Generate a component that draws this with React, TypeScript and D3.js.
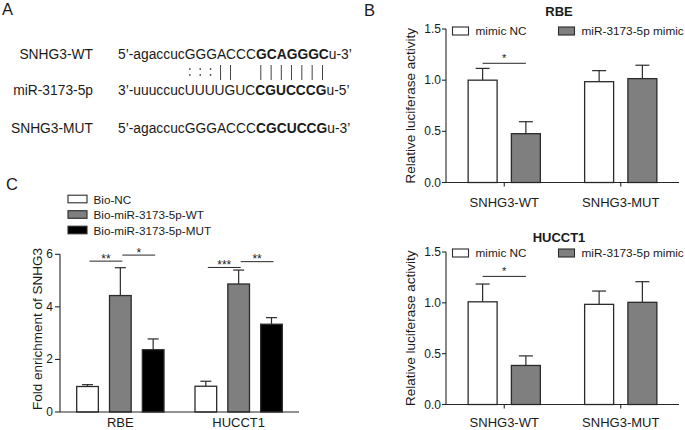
import React, { useLayoutEffect, useRef, useState } from 'react';
import * as d3 from 'd3';

const FONT = "'Liberation Sans', Arial, Helvetica, sans-serif";

// panel A sequences: [plain, bold seed, tail]
const seqWT = ['5\u2019-agaccucGGGACCC', 'GCAGGGC', 'u-3\u2019'];
const seqMiR = ['3\u2019-uuuccucUUUUGUC', 'CGUCCCG', 'u-5\u2019'];
const seqMUT = ['5\u2019-agaccucGGGACCC', 'CGCUCCG', 'u-3\u2019'];
const seqNames = ['SNHG3-WT', 'miR-3173-5p', 'SNHG3-MUT'];
// pairing marks for the 14 upper-case bases after the 10-char prefix
const pairing = [':', ':', ':', '|', '|', '', '', '|', '|', '|', '|', '|', '|', '|'];

// panel B
const lucCats = ['SNHG3-WT', 'SNHG3-MUT'];
const lucSeries = ['mimic NC', 'miR-3173-5p mimic'];
const rbeNC = [1.0, 0.985];
const rbeNCSd = [0.115, 0.108];
const rbeMimic = [0.477, 1.015];
const rbeMimicSd = [0.117, 0.131];
const hucNC = [1.01, 0.985];
const hucNCSd = [0.175, 0.131];
const hucMimic = [0.384, 1.005];
const hucMimicSd = [0.094, 0.203];
const lucTicks = [0, 0.5, 1.0, 1.5];

// panel C
const enrichCats = ['RBE', 'HUCCT1'];
const enrichSeries = ['Bio-NC', 'Bio-miR-3173-5p-WT', 'Bio-miR-3173-5p-MUT'];
const bioNC = [0.97, 0.98];
const bioNCSd = [0.07, 0.19];
const bioWT = [4.43, 4.87];
const bioWTSd = [1.06, 0.53];
const bioMUT = [2.37, 3.34];
const bioMUTSd = [0.41, 0.25];
const enrichTicks = [0, 2, 4, 6];
// significance: [category index, from series, to series, label, height]
const enrichSig: [number, number, number, string, number][] = [
  [0, 0, 1, '**', 5.74],
  [0, 1, 2, '*', 5.97],
  [1, 0, 1, '***', 5.5],
  [1, 1, 2, '**', 5.72],
];

const fills3 = ['#ffffff', '#7f7f7f', '#000000'];
const fills2 = ['#ffffff', '#7f7f7f'];
const EDGE = '#2b2b2b';
const AXIS = '#262626';

function PanelA() {
  const wtRef = useRef<SVGTextElement>(null);
  const mirRef = useRef<SVGTextElement>(null);
  const [pairX, setPairX] = useState<number[]>([]);

  useLayoutEffect(() => {
    const a = wtRef.current;
    const b = mirRef.current;
    if (!a || !b) return;
    const xs = pairing.map((_, i) => {
      const ea = a.getExtentOfChar(10 + i);
      const eb = b.getExtentOfChar(10 + i);
      return (ea.x + ea.width / 2 + eb.x + eb.width / 2) / 2;
    });
    setPairX(xs);
  }, []);

  const rows = [seqWT, seqMiR, seqMUT];
  const rowY = [59, 95, 133];
  const refs = [wtRef, mirRef, null];
  return (
    <g fontFamily={FONT} fill="#1a1a1a">
      <text x={2} y={15} fontSize={16.5}>A</text>
      {rows.map((r, i) => (
        <g key={i}>
          <text x={93} y={rowY[i]} fontSize={13.8} textAnchor="end">{seqNames[i]}</text>
          <text ref={refs[i] as any} x={118} y={rowY[i]} fontSize={13.8}>
            <tspan>{r[0]}</tspan>
            <tspan fontWeight="bold">{r[1]}</tspan>
            <tspan>{r[2]}</tspan>
          </text>
        </g>
      ))}
      {pairX.map((x, i) => {
        const m = pairing[i];
        if (m === '|') return <line key={i} x1={x} x2={x} y1={65} y2={80} stroke="#444" strokeWidth={1} />;
        if (m === ':')
          return (
            <g key={i} fill="#555">
              <circle cx={x} cy={69} r={0.9} />
              <circle cx={x} cy={75} r={0.9} />
            </g>
          );
        return null;
      })}
    </g>
  );
}

type LucProps = {
  title: string;
  nc: number[];
  ncSd: number[];
  mimic: number[];
  mimicSd: number[];
  sigAt: number;
  yRange: [number, number];
  titleY: number;
  legendY: number;
  xLabelY: number;
};

function LucPanel({ title, nc, ncSd, mimic, mimicSd, sigAt, yRange, titleY, legendY, xLabelY }: LucProps) {
  const x0 = 446;
  const x1 = 679;
  const y = d3.scaleLinear().domain([0, 1.5]).range(yRange);
  const xg = d3.scaleBand().domain(lucCats).range([x0, x1]).paddingInner(0.38).paddingOuter(0.19);
  const xs = d3.scaleBand().domain(lucSeries).range([0, xg.bandwidth()]).paddingInner(0.33);
  const means = [nc, mimic];
  const sds = [ncSd, mimicSd];
  const bw = xs.bandwidth();
  const base = y(0);
  const yMid = (yRange[0] + yRange[1]) / 2;
  const sigX1 = (xg(lucCats[0]) as number) + (xs(lucSeries[0]) as number) + bw / 2;
  const sigX2 = (xg(lucCats[0]) as number) + (xs(lucSeries[1]) as number) + bw / 2;
  return (
    <g fontFamily={FONT} fill="#1a1a1a">
      <text x={559} y={titleY} fontSize={13} fontWeight="bold" textAnchor="middle">{title}</text>
      {/* legend */}
      {lucSeries.map((s, i) => {
        const lx = i === 0 ? 452.5 : 558.5;
        return (
          <g key={s}>
            <rect x={lx} y={legendY - 4} width={16} height={8} fill={fills2[i]} stroke={EDGE} strokeWidth={1.1} />
            <text x={lx + 23} y={legendY} fontSize={11.8} dominantBaseline="central">{s}</text>
          </g>
        );
      })}
      {/* bars */}
      {lucCats.map((c, ci) =>
        lucSeries.map((s, si) => {
          const bx = (xg(c) as number) + (xs(s) as number);
          const v = means[si][ci];
          const e = v + sds[si][ci];
          const cx = bx + bw / 2;
          return (
            <g key={c + s}>
              <line x1={cx} x2={cx} y1={y(v)} y2={y(e)} stroke={EDGE} strokeWidth={1.2} />
              <line x1={cx - 7} x2={cx + 7} y1={y(e)} y2={y(e)} stroke={EDGE} strokeWidth={1.2} />
              <rect x={bx} y={y(v)} width={bw} height={base - y(v)} fill={fills2[si]} stroke={EDGE} strokeWidth={1.3} />
            </g>
          );
        })
      )}
      {/* significance */}
      <line x1={sigX1} x2={sigX2} y1={y(sigAt)} y2={y(sigAt)} stroke={AXIS} strokeWidth={1} />
      <text x={(sigX1 + sigX2) / 2} y={y(sigAt) - 1} fontSize={11} textAnchor="middle">*</text>
      {/* axes */}
      <line x1={x0} x2={x0} y1={yRange[1]} y2={base} stroke={AXIS} strokeWidth={1.1} />
      <line x1={x0} x2={x1} y1={base} y2={base} stroke={AXIS} strokeWidth={1.1} />
      {lucTicks.map((t) => (
        <g key={t}>
          <line x1={x0 - 4} x2={x0} y1={y(t)} y2={y(t)} stroke={AXIS} strokeWidth={1.1} />
          <text x={441} y={y(t)} fontSize={12} textAnchor="end" dominantBaseline="central">{t.toFixed(1)}</text>
        </g>
      ))}
      {lucCats.map((c) => {
        const cx = (xg(c) as number) + xg.bandwidth() / 2;
        return (
          <g key={c}>
            <line x1={cx} x2={cx} y1={base} y2={base + 4} stroke={AXIS} strokeWidth={1.1} />
            <text x={cx} y={xLabelY} fontSize={13} textAnchor="middle">{c}</text>
          </g>
        );
      })}
      <text transform={`translate(414.5,${yMid}) rotate(-90)`} fontSize={13.5} textAnchor="middle">
        Relative luciferase activity
      </text>
    </g>
  );
}

function PanelC() {
  const x0 = 60;
  const x1 = 299;
  const y = d3.scaleLinear().domain([0, 6]).range([412, 254.3]);
  const xg = d3.scaleBand().domain(enrichCats).range([x0, x1]).paddingInner(0.262).paddingOuter(0.141);
  const xs = d3.scaleBand().domain(enrichSeries).range([0, xg.bandwidth()]).paddingInner(0.34);
  const means = [bioNC, bioWT, bioMUT];
  const sds = [bioNCSd, bioWTSd, bioMUTSd];
  const bw = xs.bandwidth();
  const base = y(0);
  const center = (ci: number, si: number) =>
    (xg(enrichCats[ci]) as number) + (xs(enrichSeries[si]) as number) + bw / 2;
  const legendRows = [199, 214.5, 230];
  return (
    <g fontFamily={FONT} fill="#1a1a1a">
      <text x={6} y={190} fontSize={16.5}>C</text>
      {enrichSeries.map((s, i) => (
        <g key={s}>
          <rect x={68} y={legendRows[i] - 3.8} width={19} height={7.6} fill={fills3[i]} stroke={EDGE} strokeWidth={1.1} />
          <text x={93.5} y={legendRows[i]} fontSize={11.7} dominantBaseline="central">{s}</text>
        </g>
      ))}
      {enrichCats.map((c, ci) =>
        enrichSeries.map((s, si) => {
          const bx = (xg(c) as number) + (xs(s) as number);
          const v = means[si][ci];
          const e = v + sds[si][ci];
          const cx = bx + bw / 2;
          return (
            <g key={c + s}>
              <line x1={cx} x2={cx} y1={y(v)} y2={y(e)} stroke={EDGE} strokeWidth={1.2} />
              <line x1={cx - 5.5} x2={cx + 5.5} y1={y(e)} y2={y(e)} stroke={EDGE} strokeWidth={1.2} />
              <rect x={bx} y={y(v)} width={bw} height={base - y(v)} fill={fills3[si]} stroke={EDGE} strokeWidth={1.3} />
            </g>
          );
        })
      )}
      {enrichSig.map(([ci, a, b, lab, h], i) => {
        const xa = center(ci, a) + 2;
        const xb = center(ci, b) + 2;
        return (
          <g key={i}>
            <line x1={xa} x2={xb} y1={y(h)} y2={y(h)} stroke={AXIS} strokeWidth={1} />
            <text x={(xa + xb) / 2} y={y(h) + 1.5} fontSize={12} textAnchor="middle">{lab}</text>
          </g>
        );
      })}
      <line x1={x0} x2={x0} y1={y(6)} y2={base} stroke={AXIS} strokeWidth={1.1} />
      <line x1={x0} x2={x1} y1={base} y2={base} stroke={AXIS} strokeWidth={1.1} />
      {enrichTicks.map((t) => (
        <g key={t}>
          <line x1={x0 - 5} x2={x0} y1={y(t)} y2={y(t)} stroke={AXIS} strokeWidth={1.1} />
          <text x={53} y={y(t)} fontSize={12} textAnchor="end" dominantBaseline="central">{t}</text>
        </g>
      ))}
      {enrichCats.map((c) => (
        <text key={c} x={(xg(c) as number) + xg.bandwidth() / 2} y={427.2} fontSize={13} textAnchor="middle">{c}</text>
      ))}
      <text transform="translate(41.5,329) rotate(-90)" fontSize={13.5} textAnchor="middle">
        Fold enrichment of SNHG3
      </text>
    </g>
  );
}

export default function App() {
  return (
    <svg width={685} height={430} style={{ position: 'absolute', left: 0, top: 0, background: '#fff' }}>
      <rect width={685} height={430} fill="#fff" />
      <PanelA />
      <text x={364} y={16} fontSize={16.5} fontFamily={FONT} fill="#1a1a1a">B</text>
      <LucPanel
        title="RBE"
        nc={rbeNC}
        ncSd={rbeNCSd}
        mimic={rbeMimic}
        mimicSd={rbeMimicSd}
        sigAt={1.165}
        yRange={[182.5, 29]}
        titleY={16}
        legendY={31}
        xLabelY={207}
      />
      <LucPanel
        title="HUCCT1"
        nc={hucNC}
        ncSd={hucNCSd}
        mimic={hucMimic}
        mimicSd={hucMimicSd}
        sigAt={1.26}
        yRange={[404.5, 252]}
        titleY={241.5}
        legendY={253}
        xLabelY={427.2}
      />
      <PanelC />
    </svg>
  );
}
